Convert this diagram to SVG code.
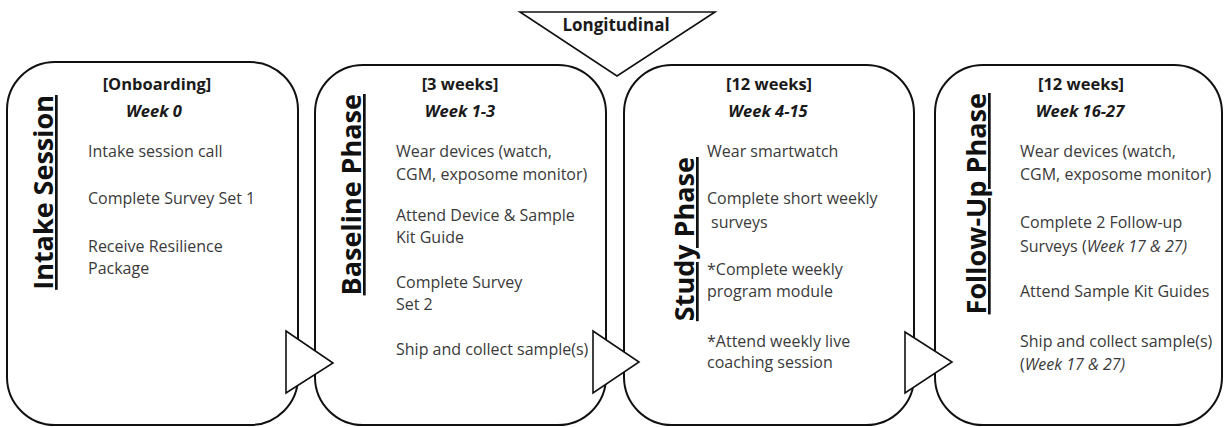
<svg xmlns="http://www.w3.org/2000/svg" width="1225" height="427" viewBox="0 0 1225 427">
<style>
.box{fill:#fff;stroke:#111;stroke-width:2}
.tri{fill:#fff;stroke:#111;stroke-width:1.6;stroke-linejoin:miter}
.hd{font-family:"Open Sans","DejaVu Sans",sans-serif;font-size:16.5px;font-weight:bold;fill:#1a1a1a;text-anchor:middle}
.wk{font-family:"Open Sans","DejaVu Sans",sans-serif;font-size:16.5px;font-weight:bold;font-style:italic;fill:#1a1a1a;text-anchor:middle}
.it{font-family:"Open Sans","DejaVu Sans",sans-serif;font-size:16px;fill:#3a3a3a}
.vl{font-family:"Open Sans","DejaVu Sans",sans-serif;font-size:27px;font-weight:bold;fill:#111;text-anchor:end;text-decoration:underline}
.i{font-style:italic}
</style>
<rect width="1225" height="427" fill="#fff"/>
<g id="longitudinal">
<polygon class="tri" points="520,12 715,12 617,76"/>
<text x="616" y="31" class="hd" style="font-size:17px">Longitudinal</text>
</g>
<g id="intake">
<rect class="box" x="7" y="62" width="291" height="363" rx="48" ry="48"/>
<text class="vl" transform="translate(53,95) rotate(-90)">Intake Session</text>
<text class="hd" x="157" y="90">[Onboarding]</text>
<text class="wk" x="154" y="117">Week 0</text>
<text class="it" x="88" y="157">Intake session call</text>
<text class="it" x="88" y="204">Complete Survey Set 1</text>
<text class="it" x="88" y="252">Receive Resilience</text>
<text class="it" x="88" y="274">Package</text>
</g>
<g id="baseline">
<rect class="box" x="315" y="65" width="291" height="360" rx="48" ry="48"/>
<text class="vl" transform="translate(361,94) rotate(-90)">Baseline Phase</text>
<text class="hd" x="460" y="90">[3 weeks]</text>
<text class="wk" x="460" y="117">Week 1-3</text>
<text class="it" x="396" y="157">Wear devices (watch,</text>
<text class="it" x="396" y="180">CGM, exposome monitor)</text>
<text class="it" x="396" y="221">Attend Device &amp; Sample</text>
<text class="it" x="396" y="243">Kit Guide</text>
<text class="it" x="396" y="288">Complete Survey</text>
<text class="it" x="396" y="310">Set 2</text>
<text class="it" x="396" y="355">Ship and collect sample(s)</text>
</g>
<g id="study">
<rect class="box" x="624" y="65" width="290" height="360" rx="48" ry="48"/>
<text class="vl" transform="translate(694,157) rotate(-90)">Study Phase</text>
<text class="hd" x="769" y="90">[12 weeks]</text>
<text class="wk" x="768" y="117">Week 4-15</text>
<text class="it" x="707" y="157">Wear smartwatch</text>
<text class="it" x="707" y="204">Complete short weekly</text>
<text class="it" x="711" y="228">surveys</text>
<text class="it" x="707" y="275">*Complete weekly</text>
<text class="it" x="707" y="297">program module</text>
<text class="it" x="707" y="347">*Attend weekly live</text>
<text class="it" x="707" y="368">coaching session</text>
</g>
<g id="followup">
<rect class="box" x="935" y="65" width="287" height="360" rx="48" ry="48"/>
<text class="vl" transform="translate(986,93) rotate(-90)">Follow-Up Phase</text>
<text class="hd" x="1081" y="90">[12 weeks]</text>
<text class="wk" x="1080" y="117">Week 16-27</text>
<text class="it" x="1020" y="157">Wear devices (watch,</text>
<text class="it" x="1020" y="180">CGM, exposome monitor)</text>
<text class="it" x="1020" y="228">Complete 2 Follow-up</text>
<text class="it" x="1020" y="252">Surveys (<tspan class="i">Week 17 &amp; 27)</tspan></text>
<text class="it" x="1020" y="297">Attend Sample Kit Guides</text>
<text class="it" x="1020" y="347">Ship and collect sample(s)</text>
<text class="it" x="1020" y="370">(<tspan class="i">Week 17 &amp; 27)</tspan></text>
</g>
<g id="connectors">
<polygon class="tri" points="286,331 333,363 286,393"/>
<polygon class="tri" points="593,331 639,362 593,393"/>
<polygon class="tri" points="905,332 952,362 905,393"/>
</g>
</svg>
